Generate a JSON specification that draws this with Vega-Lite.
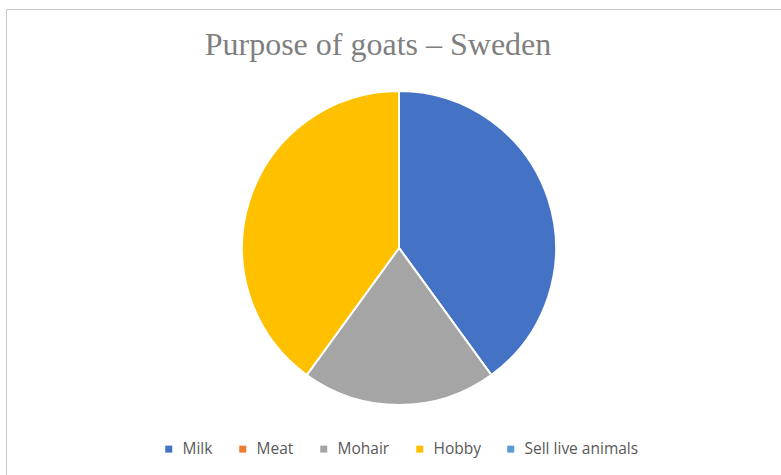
{
  "$schema": "https://vega.github.io/schema/vega-lite/v6.json",
  "autosize": {"type": "none"},
  "padding": {"left": 6, "top": 9, "right": 0, "bottom": 0},
  "width": 786,
  "height": 478,
  "background": "white",
  "view": {"stroke": "#c8c8c8", "strokeWidth": 1},
  "title": {
    "text": "Purpose of goats – Sweden",
    "font": "Liberation Serif",
    "fontSize": 32,
    "fontWeight": "normal",
    "color": "#7f7f7f",
    "anchor": "middle",
    "baseline": "alphabetic",
    "offset": -47,
    "dx": -21,
    "dy": 31
  },
  "data": {
    "values": [
      {"purpose": "Milk", "share": 40, "order": 1},
      {"purpose": "Meat", "share": 0, "order": 2},
      {"purpose": "Mohair", "share": 20, "order": 3},
      {"purpose": "Hobby", "share": 40, "order": 4},
      {"purpose": "Sell live animals", "share": 0, "order": 5}
    ]
  },
  "mark": {"type": "arc", "outerRadius": 157, "stroke": "white", "strokeWidth": 2},
  "encoding": {
    "theta": {"field": "share", "type": "quantitative", "stack": true},
    "order": {"field": "order", "type": "quantitative"},
    "color": {
      "field": "purpose",
      "type": "nominal",
      "sort": ["Milk", "Meat", "Mohair", "Hobby", "Sell live animals"],
      "scale": {
        "domain": ["Milk", "Meat", "Mohair", "Hobby", "Sell live animals"],
        "range": ["#4472c4", "#ed7d31", "#a5a5a5", "#ffc000", "#5b9bd5"]
      },
      "legend": {
        "title": null,
        "orient": "none",
        "direction": "horizontal",
        "legendX": 155,
        "legendY": 432,
        "padding": 0,
        "symbolType": "square",
        "symbolSize": 49,
        "symbolStrokeWidth": 0,
        "labelFont": "Open Sans",
        "labelFontSize": 15.5,
        "labelColor": "#595959",
        "labelOffset": 6,
        "columnPadding": 22
      }
    }
  }
}
